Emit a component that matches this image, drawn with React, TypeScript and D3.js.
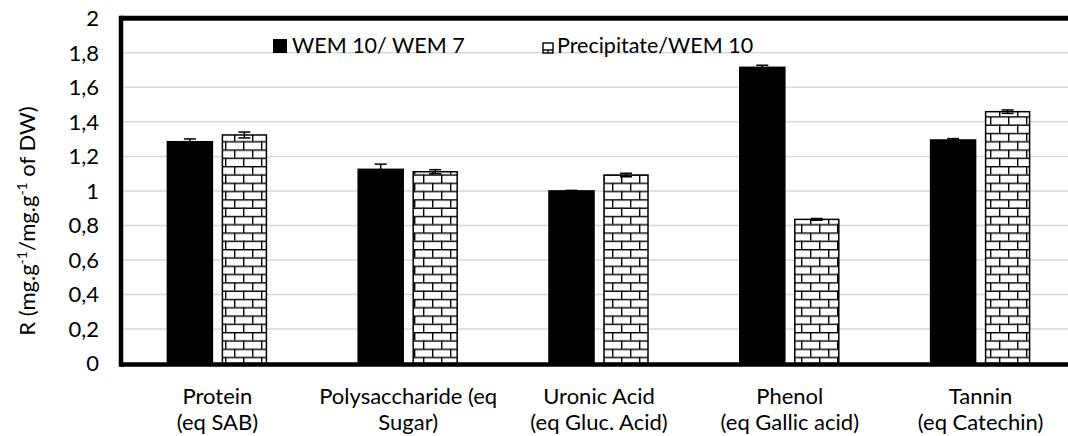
import { useEffect, useRef } from 'react';
import * as d3 from 'd3';

const categories = [
  ['Protein', '(eq SAB)'],
  ['Polysaccharide (eq', 'Sugar)'],
  ['Uronic Acid', '(eq Gluc. Acid)'],
  ['Phenol', '(eq Gallic acid)'],
  ['Tannin', '(eq Catechin)'],
];
const wem10wem7 = [1.285, 1.125, 1.0, 1.716, 1.295];
const wem10wem7Err = [0.016, 0.03, 0.003, 0.012, 0.008];
const precipWem10 = [1.324, 1.111, 1.092, 0.835, 1.459];
const precipWem10Err = [0.017, 0.012, 0.01, 0.005, 0.01];
const yTicks = [0, 0.2, 0.4, 0.6, 0.8, 1, 1.2, 1.4, 1.6, 1.8, 2];
const seriesNames = ['WEM 10/ WEM 7', 'Precipitate/WEM 10'];

const FONT = 'Lato, "Open Sans", sans-serif';

export default function App() {
  const svgRef = useRef<SVGSVGElement>(null);

  useEffect(() => {
    if (!svgRef.current) return;
    const svg = d3.select(svgRef.current);
    svg.selectAll('*').remove();

    const width = 1068;
    const height = 436;
    const left = 121;

    const x = d3.scaleBand<number>()
      .domain(categories.map((_, i) => i))
      .range([122, 1076]);
    const y = d3.scaleLinear().domain([0, 2]).range([363.5, 18.3]);

    const barW = 45;
    const gap = 10;

    // brick pattern
    const defs = svg.append('defs');
    const pat = defs.append('pattern')
      .attr('id', 'brick')
      .attr('patternUnits', 'userSpaceOnUse')
      .attr('width', 18)
      .attr('height', 16.6);
    pat.append('rect').attr('width', 18).attr('height', 16.6).attr('fill', '#fff');
    pat.append('rect').attr('x', 0).attr('y', 0).attr('width', 18).attr('height', 1.4).attr('fill', '#000');
    pat.append('rect').attr('x', 0).attr('y', 8.3).attr('width', 18).attr('height', 1.4).attr('fill', '#000');
    pat.append('rect').attr('x', 0).attr('y', 0).attr('width', 1.4).attr('height', 8.3).attr('fill', '#000');
    pat.append('rect').attr('x', 9).attr('y', 8.3).attr('width', 1.4).attr('height', 8.3).attr('fill', '#000');

    // Grid lines
    svg.append('g')
      .selectAll('line')
      .data(yTicks.slice(1, -1))
      .enter()
      .append('line')
      .attr('x1', left)
      .attr('x2', width)
      .attr('y1', d => y(d))
      .attr('y2', d => y(d))
      .attr('stroke', '#d9d9d9')
      .attr('stroke-width', 1.5);

    // Bars
    const bars = svg.append('g');
    categories.forEach((_, i) => {
      const c = (x(i) as number) + x.bandwidth() / 2;
      const x1 = c - gap / 2 - barW;
      const x2 = c + gap / 2;
      bars.append('rect')
        .attr('x', x1)
        .attr('y', y(wem10wem7[i]))
        .attr('width', barW)
        .attr('height', y(0) - y(wem10wem7[i]))
        .attr('fill', '#000')
        .attr('stroke', '#000')
        .attr('stroke-width', 1.5);
      bars.append('rect')
        .attr('x', x2)
        .attr('y', y(precipWem10[i]))
        .attr('width', barW - 1)
        .attr('height', y(0) - y(precipWem10[i]))
        .attr('fill', 'url(#brick)')
        .attr('stroke', '#000')
        .attr('stroke-width', 1.5);

      // error bars
      const errs = [
        { cx: x1 + barW / 2, v: wem10wem7[i], e: wem10wem7Err[i] },
        { cx: x2 + (barW - 1) / 2, v: precipWem10[i], e: precipWem10Err[i] },
      ];
      errs.forEach(er => {
        bars.append('line')
          .attr('x1', er.cx).attr('x2', er.cx)
          .attr('y1', y(er.v - er.e)).attr('y2', y(er.v + er.e))
          .attr('stroke', '#000').attr('stroke-width', 1.5);
        [er.v - er.e, er.v + er.e].forEach(v => {
          bars.append('line')
            .attr('x1', er.cx - 6).attr('x2', er.cx + 6)
            .attr('y1', y(v)).attr('y2', y(v))
            .attr('stroke', '#000').attr('stroke-width', 1.5);
        });
      });
    });

    // Frame: top, left, bottom
    svg.append('line')
      .attr('x1', left).attr('x2', width)
      .attr('y1', y(2)).attr('y2', y(2))
      .attr('stroke', '#000').attr('stroke-width', 5);
    svg.append('line')
      .attr('x1', left).attr('x2', width)
      .attr('y1', y(0) + 1).attr('y2', y(0) + 1)
      .attr('stroke', '#000').attr('stroke-width', 4.5);
    svg.append('line')
      .attr('x1', left).attr('x2', left)
      .attr('y1', y(2) - 2.5).attr('y2', y(0) + 3.2)
      .attr('stroke', '#000').attr('stroke-width', 4.5);

    // Y tick labels
    svg.append('g')
      .selectAll('text')
      .data(yTicks)
      .enter()
      .append('text')
      .attr('x', 99)
      .attr('y', d => y(d))
      .attr('dy', '0.35em')
      .attr('text-anchor', 'end')
      .style('font-family', FONT)
      .style('font-size', '22px')
      .attr('fill', '#000')
      .text(d => d3.format('~g')(d).replace('.', ','));

    // Category labels
    categories.forEach((lines, i) => {
      const c = (x(i) as number) + x.bandwidth() / 2;
      lines.forEach((ln, j) => {
        svg.append('text')
          .attr('x', c)
          .attr('y', 404 + j * 26)
          .attr('text-anchor', 'middle')
          .style('font-family', FONT)
          .style('font-size', '22px')
          .attr('fill', '#000')
          .text(ln);
      });
    });

    // Y axis title
    const title = svg.append('text')
      .attr('transform', 'translate(35,221) rotate(-90)')
      .attr('text-anchor', 'middle')
      .style('font-family', FONT)
      .style('font-size', '22px')
      .attr('fill', '#000');
    title.append('tspan').text('R (mg.g');
    title.append('tspan').attr('dy', -8).style('font-size', '14px').text('-1');
    title.append('tspan').attr('dy', 8).text('/mg.g');
    title.append('tspan').attr('dy', -8).style('font-size', '14px').text('-1');
    title.append('tspan').attr('dy', 8).text(' of DW)');

    // Legend
    const lg = svg.append('g');
    lg.append('rect')
      .attr('x', 273).attr('y', 39).attr('width', 14).attr('height', 14)
      .attr('fill', '#000');
    lg.append('text')
      .attr('x', 292).attr('y', 53)
      .style('font-family', FONT)
      .style('font-size', '21.5px')
      .attr('fill', '#000')
      .text(seriesNames[0]);
    lg.append('rect')
      .attr('x', 543).attr('y', 43).attr('width', 10).attr('height', 10)
      .attr('fill', '#fff').attr('stroke', '#000').attr('stroke-width', 1.4);
    lg.append('line')
      .attr('x1', 543).attr('x2', 553).attr('y1', 50).attr('y2', 50)
      .attr('stroke', '#000').attr('stroke-width', 1.4);
    lg.append('line')
      .attr('x1', 548).attr('x2', 548).attr('y1', 50).attr('y2', 53)
      .attr('stroke', '#000').attr('stroke-width', 1.2);
    lg.append('text')
      .attr('x', 557).attr('y', 53)
      .style('font-family', FONT)
      .style('font-size', '21.5px')
      .attr('fill', '#000')
      .text(seriesNames[1]);

    svg.attr('width', width).attr('height', height);
  }, []);

  return (
    <svg
      ref={svgRef}
      width={1068}
      height={436}
      style={{ position: 'absolute', left: 0, top: 0, background: '#fff' }}
    />
  );
}
